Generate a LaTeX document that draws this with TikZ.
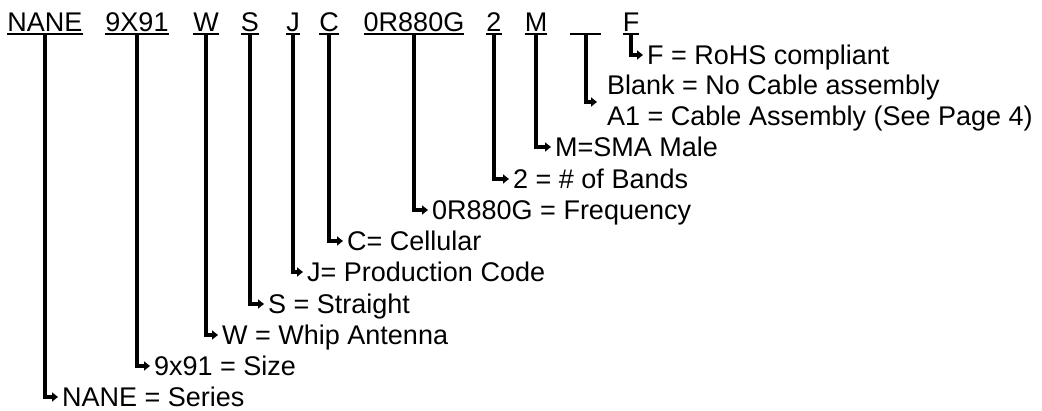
\documentclass[tikz,border=0pt]{standalone}
\usepackage{fontspec}
\setmainfont{Liberation Sans}
\usetikzlibrary{arrows.meta}

\tikzset{
  code/.style={font=\fontsize{27}{30}\selectfont, inner sep=0pt, anchor=base},
  lbl/.style={font=\fontsize{27}{30}\selectfont, inner xsep=4pt, inner ysep=0pt,
    text height=19pt, text depth=0pt, anchor=west},
  uline/.style={line width=2.2pt},
  lead/.style={line width=3.5pt, -{Triangle[length=6pt,width=9pt]}},
}

\begin{document}
\begin{tikzpicture}[x=1pt,y=-1pt]
    \useasboundingbox (0,0) rectangle (1042,411);

    % part number
    \node[code] (nane) at (45,32) {NANE};
    \node[code] (size) at (137,32) {9X91};
    \node[code] (whip) at (206,32) {W};
    \node[code] (str) at (250,32) {S};
    \node[code] (prod) at (293,32) {J};
    \node[code] (cell) at (329,32) {C};
    \node[code] (freq) at (414,32) {0R880G};
    \node[code] (band) at (494,32) {2};
    \node[code] (conn) at (536,32) {M};
    \node[code] (rohs) at (631,32) {F};
    \coordinate (blank) at (586,34);

    \draw[uline] ([yshift=-2pt]nane.base west) -- ([yshift=-2pt]nane.base east);
    \draw[uline] ([yshift=-2pt]size.base west) -- ([yshift=-2pt]size.base east);
    \draw[uline] ([yshift=-2pt]whip.base west) -- ([yshift=-2pt]whip.base east);
    \draw[uline] ([yshift=-2pt]str.base west) -- ([yshift=-2pt]str.base east);
    \draw[uline] ([yshift=-2pt]prod.base west) -- ([yshift=-2pt]prod.base east);
    \draw[uline] ([yshift=-2pt]cell.base west) -- ([yshift=-2pt]cell.base east);
    \draw[uline] ([yshift=-2pt]freq.base west) -- ([yshift=-2pt]freq.base east);
    \draw[uline] ([yshift=-2pt]band.base west) -- ([yshift=-2pt]band.base east);
    \draw[uline] ([yshift=-2pt]conn.base west) -- ([yshift=-2pt]conn.base east);
    \draw[uline] ([yshift=-2pt]rohs.base west) -- ([yshift=-2pt]rohs.base east);
    \draw[uline] ([xshift=-16pt]blank) -- ([xshift=15pt]blank);

    % meanings
    \node[lbl] (lrohs) at (643,55) {F = RoHS compliant};
    \node[lbl] (lblank) at (603,85) {Blank = No Cable assembly};
    \node[lbl] (lcable) at (603,116) {A1 = Cable Assembly (See Page 4)};
    \node[lbl] (lconn) at (551,147) {M=SMA Male};
    \node[lbl] (lband) at (509,179) {2 = \# of Bands};
    \node[lbl] (lfreq) at (428,210) {0R880G = Frequency};
    \node[lbl] (lcell) at (343,241) {C= Cellular};
    \node[lbl] (lprod) at (303,272) {J= Production Code};
    \node[lbl] (lstr) at (264,304) {S = Straight};
    \node[lbl] (lwhip) at (218,335) {W = Whip Antenna};
    \node[lbl] (lsize) at (150,366) {9x91 = Size};
    \node[lbl] (lnane) at (58,397) {NANE = Series};

    % leaders
    \draw[lead] ([yshift=-2pt]nane.base) |- (lnane.west);
    \draw[lead] ([yshift=-2pt]size.base) |- (lsize.west);
    \draw[lead] ([yshift=-2pt]whip.base) |- (lwhip.west);
    \draw[lead] ([yshift=-2pt]str.base) |- (lstr.west);
    \draw[lead] ([yshift=-2pt]prod.base) |- (lprod.west);
    \draw[lead] ([yshift=-2pt]cell.base) |- (lcell.west);
    \draw[lead] ([yshift=-2pt]freq.base) |- (lfreq.west);
    \draw[lead] ([yshift=-2pt]band.base) |- (lband.west);
    \draw[lead] ([yshift=-2pt]conn.base) |- (lconn.west);
    \draw[lead] (blank) |- ([yshift=14pt,xshift=-6pt]lcable.west);
    \draw[lead] ([yshift=-2pt]rohs.base) |- (lrohs.west);
\end{tikzpicture}
\end{document}
